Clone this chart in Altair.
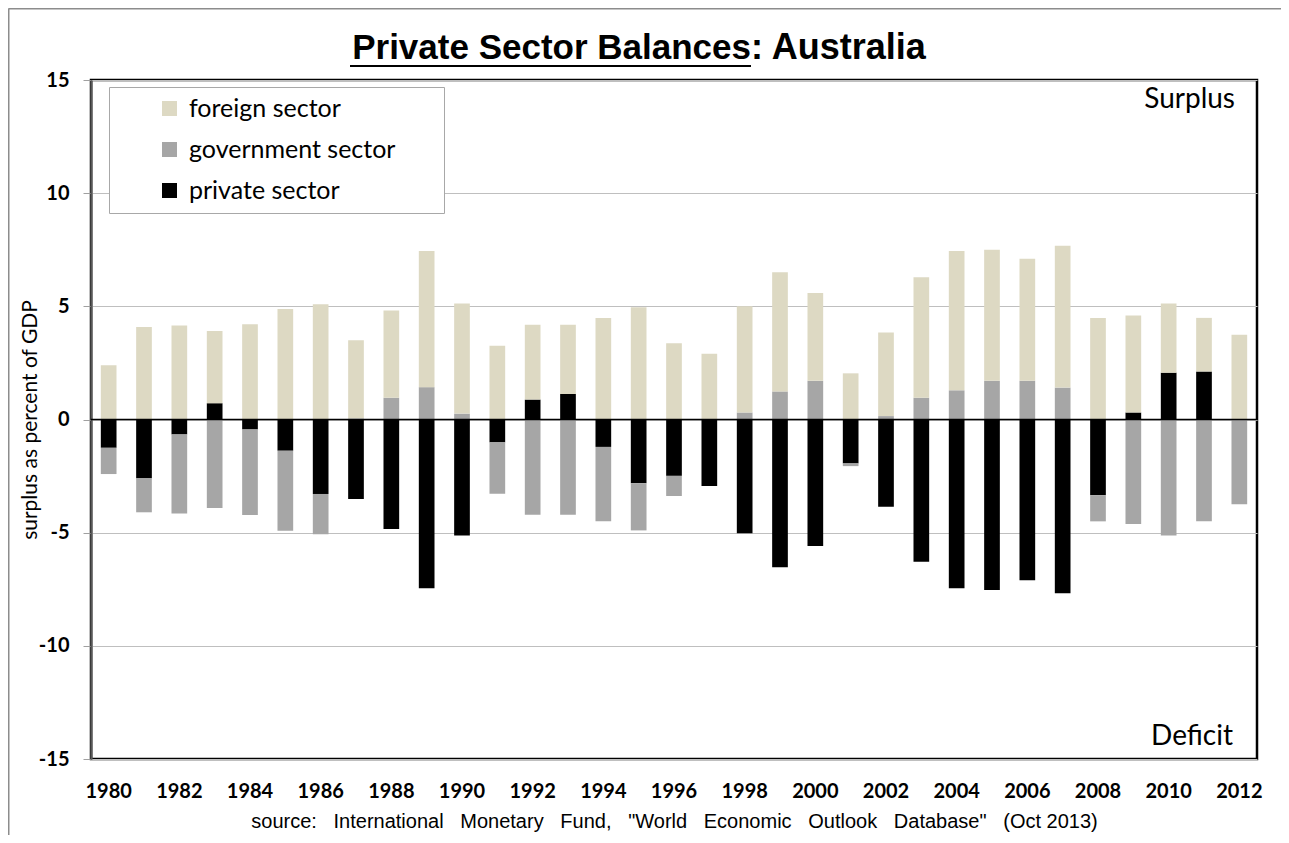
import altair as alt
import pandas as pd

years = list(range(1980, 2013))
private = [-1.25, -2.60, -0.66, 0.72, -0.44, -1.38, -3.29, -3.51, -4.84, -7.46,
           -5.13, -1.01, 0.88, 1.13, -1.21, -2.82, -2.49, -2.94, -5.03, -6.53,
           -5.59, -1.94, -3.85, -6.29, -7.46, -7.53, -7.10, -7.68, -3.35, 0.31,
           2.07, 2.12, 0.0]
government = [-1.16, -1.50, -3.49, -3.91, -3.78, -3.53, -1.78, 0.05, 0.96, 1.43,
              0.26, -2.27, -4.21, -4.21, -3.29, -2.08, -0.89, 0.0, 0.31, 1.24,
              1.71, -0.12, 0.15, 0.96, 1.29, 1.71, 1.71, 1.41, -1.15, -4.62,
              -5.13, -4.50, -3.74]
foreign = [2.40, 4.09, 4.15, 3.19, 4.21, 4.88, 5.09, 3.45, 3.86, 6.01,
           4.86, 3.26, 3.31, 3.06, 4.49, 4.96, 3.37, 2.91, 4.69, 5.27,
           3.88, 2.04, 3.69, 5.32, 6.15, 5.79, 5.39, 6.27, 4.49, 4.29,
           3.06, 2.37, 3.74]

series_names = ["foreign sector", "government sector", "private sector"]
series_colors = ["#DDD9C3", "#A6A6A6", "#000000"]
y_ticks = [-15, -10, -5, 0, 5, 10, 15]
x_label_years = [str(y) for y in range(1980, 2013, 2)]

NB = "\u00a0"
SP = NB + NB + " "
title_part1 = "Private Sector Balances"
title_part2 = ": Australia"
y_title = "surplus as percent of GDP"
source_text = ("source:" + SP + "International" + SP + "Monetary" + SP + "Fund," + SP
               + "\"World" + SP + "Economic" + SP + "Outlook" + SP + "Database\"" + SP
               + "(Oct 2013)")

rows = []
for i, yr in enumerate(years):
    rows.append({"year": str(yr), "sector": "private sector", "value": private[i], "ord": 0})
    rows.append({"year": str(yr), "sector": "government sector", "value": government[i], "ord": 1})
    rows.append({"year": str(yr), "sector": "foreign sector", "value": foreign[i], "ord": 2})
df = pd.DataFrame(rows)

W, H = 1166, 679
one = pd.DataFrame({"k": [0]})

bars = alt.Chart(df).mark_bar().encode(
    x=alt.X("year:N",
            scale=alt.Scale(paddingInner=0.556, paddingOuter=0.278),
            axis=alt.Axis(values=x_label_years, labelAngle=0, ticks=False, domain=False,
                          labelFont="Lato", labelFontWeight="bold", labelFontSize=20,
                          labelColor="black", labelPadding=22,
                          title=source_text, titleFont="Liberation Sans",
                          titleFontWeight="normal", titleFontSize=20, titleColor="black",
                          titlePadding=10)),
    y=alt.Y("value:Q", stack="zero",
            scale=alt.Scale(domain=[-15, 15], nice=False, zero=False),
            axis=alt.Axis(values=y_ticks, domain=True, domainColor="#595959", domainWidth=2.3,
                          ticks=True, tickColor="#A0A0A0", tickSize=8,
                          grid=True, gridColor="#BFBFBF", gridWidth=1,
                          labelFont="Lato", labelFontWeight="bold", labelFontSize=20,
                          labelColor="black", labelPadding=14,
                          labelExpr="toString(datum.value)",
                          title=y_title, titleFont="Lato", titleFontWeight="normal",
                          titleFontSize=21, titleColor="black",
                          titleX=-61, titleY=H / 2, titleAngle=-90,
                          titleAlign="center", titleBaseline="middle")),
    color=alt.Color("sector:N",
                    scale=alt.Scale(domain=series_names, range=series_colors),
                    legend=alt.Legend(title="x", titleColor="white", titleOrient="right",
                                      titleFontSize=10, titlePadding=34,
                                      orient="none", legendX=18, legendY=7,
                                      fillColor="white", strokeColor="#A8A8A8",
                                      padding=9, symbolType="square", symbolSize=225,
                                      symbolStrokeWidth=0, symbolOffset=39,
                                      labelOffset=7, labelFont="Lato", labelFontSize=25,
                                      labelColor="black", rowPadding=15, labelLimit=500)),
    order=alt.Order("ord:Q", sort="ascending"),
)

zero_line = alt.Chart(pd.DataFrame({"v": [0]})).mark_rule(color="black", strokeWidth=1.5).encode(
    y="v:Q")

surplus = alt.Chart(one).mark_text(font="Lato", fontSize=28, align="right", baseline="middle",
                                   color="black").encode(
    x=alt.value(1144), y=alt.value(20), text=alt.value("Surplus"))
deficit = alt.Chart(one).mark_text(font="Lato", fontSize=28, align="right", baseline="middle",
                                   color="black").encode(
    x=alt.value(1142), y=alt.value(657), text=alt.value("Deficit"))

t1 = alt.Chart(one).mark_text(font="Liberation Sans", fontWeight="bold", fontSize=35,
                              align="right", baseline="alphabetic", color="black").encode(
    x=alt.value(660), y=alt.value(-21), text=alt.value(title_part1))
t2 = alt.Chart(one).mark_text(font="Liberation Sans", fontWeight="bold", fontSize=36,
                              align="left", baseline="alphabetic", color="black").encode(
    x=alt.value(660), y=alt.value(-21), text=alt.value(title_part2))
underline = alt.Chart(one).mark_rule(color="black", strokeWidth=2).encode(
    x=alt.value(259), x2=alt.value(660), y=alt.value(-14))

border_top = alt.Chart(one).mark_rule(color="#8C8C8C", strokeWidth=2).encode(
    x=alt.value(-82.5), x2=alt.value(W + 40), y=alt.value(-71.5))
border_left = alt.Chart(one).mark_rule(color="#8C8C8C", strokeWidth=2).encode(
    x=alt.value(-82.5), y=alt.value(-71.5), y2=alt.value(H + 90))

chart = alt.layer(bars, zero_line, surplus, deficit, t1, t2, underline,
                  border_top, border_left).properties(
    width=W, height=H,
    autosize=alt.AutoSizeParams(type="none"),
    padding={"left": 83, "top": 72, "right": 24, "bottom": 76},
    background="white",
).configure_view(stroke="black", strokeWidth=2.5)

chart.save("out.html", embed_options={"renderer": "svg", "actions": False})
